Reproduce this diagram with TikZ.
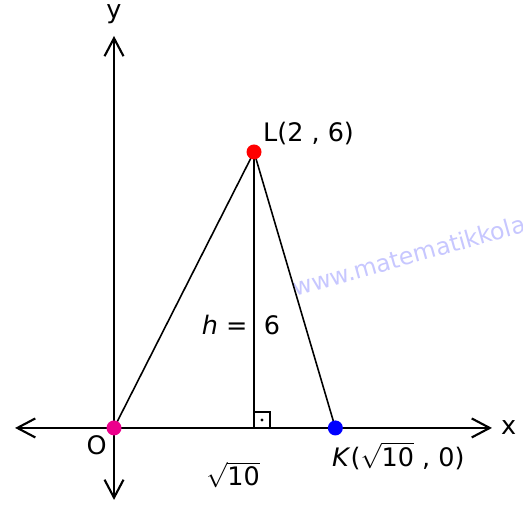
\documentclass[tikz,border=0pt]{standalone}
\usepackage{fontspec}
\setmainfont{DejaVu Sans}
\usepackage{amsmath}
\usetikzlibrary{arrows.meta,positioning}

\begin{document}
\begin{tikzpicture}[x=1.4cm,y=0.92cm,
  axis/.style={line width=1.2pt,{Straight Barb[length=3.6mm,width=3.8mm]}-{Straight Barb[length=3.6mm,width=3.8mm]}},
  side/.style={line width=0.9pt},
  lab/.style={font=\fontsize{14.5}{17}\selectfont, inner sep=3pt},
  wmtext/.style={font=\fontsize{13.5}{16}\selectfont, text=blue!22, inner sep=0pt}]
\useasboundingbox (-1.629,-1.674) rectangle (5.843,9.304);
\clip (-1.629,-1.674) rectangle (5.843,9.304);

% points of the triangle
\coordinate (O) at (0,0);
\coordinate (L) at (2,6);
\coordinate (K) at ({sqrt(10)},0);
\coordinate (H) at (2,0);

% axis ends
\coordinate (xs) at (-1.414,0);
\coordinate (xe) at (5.4,0);
\coordinate (ys) at (0,-1.565);
\coordinate (ye) at (0,8.522);

% watermark
\node[wmtext, anchor=base west, rotate=15.7] (web) at (2.586,2.848) {www.matematikkolay.net};

% axes
\draw[axis] (xs) -- (xe);
\draw[axis] (ys) -- (ye);
\node[lab, right=2pt of xe] (xlab) {x};
\node[lab, above=4pt of ye] (ylab) {y};

% triangle and height
\draw[side] (O) -- (L) -- (K);
\draw[side] (L) -- (H);
\draw[side] (H) ++(0,0.32cm) -| ++(0.32cm,-0.32cm);
\fill (H) ++(0.16cm,0.16cm) circle (0.9pt);

% vertices
\fill[magenta] (O) circle (0.15cm);
\fill[red] (L) circle (0.15cm);
\fill[blue] (K) circle (0.15cm);

% labels
\node[lab, above right=1pt and 2pt of L] (Llab) {L(2 , 6)};
\node[lab, below left=1pt and 1pt of O] (Olab) {O};
\node[lab, below right=5pt and -5pt of K] (Klab) {\textit{K}($\sqrt{\mbox{10}}$ , 0)};
\node[lab] (base) at (1.7,-1.02) {$\sqrt{\mbox{10}}$};
\node[lab] (hlab) at (1.814,2.24) {\textit{h} =\ \ 6};
\end{tikzpicture}
\end{document}
